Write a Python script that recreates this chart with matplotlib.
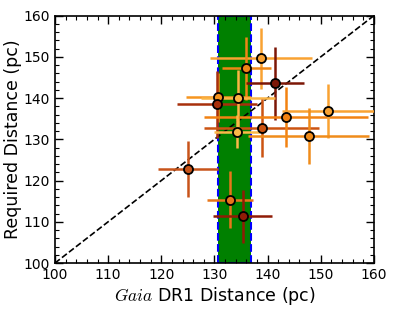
import numpy as np
import matplotlib
matplotlib.use("Agg")
import matplotlib.pyplot as plt
from matplotlib.ticker import MultipleLocator

plt.rcParams["mathtext.fontset"] = "cm"
plt.rcParams["font.family"] = "DejaVu Sans"

# Gaia DR1 distance vs required distance (pc)
gaia_dist = [138.8, 136.0, 141.4, 130.7, 130.5, 134.4, 138.9, 143.5, 151.4, 147.7, 134.3, 125.0, 132.9, 135.3]
gaia_err = [9.6, 4.6, 5.4, 6.1, 7.5, 7.0, 10.8, 15.4, 8.6, 11.3, 4.3, 5.6, 4.3, 5.5]
req_dist = [149.6, 147.2, 143.6, 140.2, 138.5, 139.9, 132.8, 135.5, 136.9, 130.7, 131.8, 122.8, 115.4, 111.3]
req_err = [7.3, 7.6, 8.8, 6.0, 8.1, 7.0, 7.0, 7.3, 6.6, 6.8, 4.0, 6.8, 6.9, 6.5]
colors = ["#f9a232", "#ef8616", "#7c1606", "#f6951f", "#a8300c", "#fbb444",
          "#cc5412", "#f28212", "#f9a232", "#f08c1a", "#fbb848", "#c8541a",
          "#e8761a", "#901c06"]

# cluster distance band
band_lo, band_hi = 130.6, 136.8

fig = plt.figure(figsize=(4.15, 3.12), dpi=100)
ax = fig.add_axes([0.1325, 0.157, 0.7685, 0.793])

ax.axvspan(band_lo, band_hi, facecolor="green", edgecolor="blue",
           linestyle="--", linewidth=1.5, zorder=1)
ax.plot([100, 160], [100, 160], "k--", lw=1.2, zorder=2)

for x, xe, y, ye, c in zip(gaia_dist, gaia_err, req_dist, req_err, colors):
    ax.errorbar(x, y, xerr=xe, yerr=ye, fmt="o", color=c, ecolor=c,
                elinewidth=1.8, capsize=0, ms=6.5, mfc=c, mec="k", mew=1.3,
                zorder=3)

ax.set_xlim(100, 160)
ax.set_ylim(100, 160)
ax.xaxis.set_major_locator(MultipleLocator(10))
ax.yaxis.set_major_locator(MultipleLocator(10))
ax.xaxis.set_minor_locator(MultipleLocator(2))
ax.yaxis.set_minor_locator(MultipleLocator(2))
ax.tick_params(which="both", direction="in", top=True, right=True, labelsize=10)
ax.tick_params(which="major", length=6, width=1)
ax.tick_params(which="minor", length=3, width=0.8)
for s in ax.spines.values():
    s.set_linewidth(1.2)

ax.set_xlabel("$Gaia$ DR1 Distance (pc)", fontsize=12.5, labelpad=2)
ax.set_ylabel("Required Distance (pc)", fontsize=12.5, labelpad=1)

fig.savefig("out.png", dpi=100)
